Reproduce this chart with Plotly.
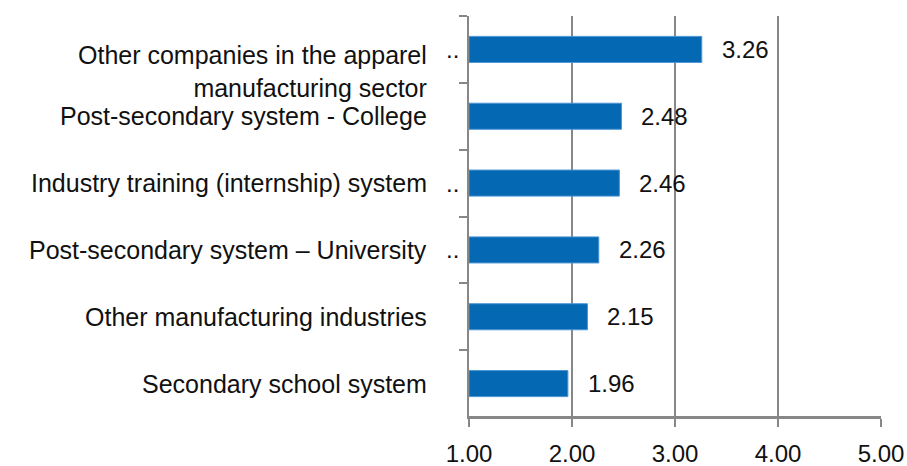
import plotly.graph_objects as go

# Mean ratings by source
categories = [
    "Other companies in the apparel<br>manufacturing sector",
    "Post-secondary system - College",
    "Industry training (internship) system",
    "Post-secondary system \u2013 University",
    "Other manufacturing industries",
    "Secondary school system",
]
values = [3.26, 2.48, 2.46, 2.26, 2.15, 1.96]
# categories whose label carries a trailing ".." marker
dotted = [True, False, True, True, False, False]
x_ticks = [1, 2, 3, 4, 5]

FONT = "Liberation Sans"
GRID = "#878787"
BAR = "#0568B2"

fig = go.Figure()
fig.add_trace(go.Bar(
    y=categories,
    x=[v - 1 for v in values],
    base=1,
    orientation="h",
    width=0.39,
    marker=dict(color=BAR, line=dict(color="#4C95D6", width=1)),
    hoverinfo="skip",
))

annotations = []
for cat, v, d in zip(categories, values, dotted):
    # value label to the right of each bar
    annotations.append(dict(
        x=v, y=cat, xref="x", yref="y", text=f"{v:.2f}",
        showarrow=False, xanchor="left", yanchor="middle", xshift=18,
        font=dict(family=FONT, size=24, color="#111111"),
    ))
    # category label left of the axis
    two_line = "<br>" in cat
    annotations.append(dict(
        x=0, y=cat, xref="paper", yref="y", text=cat,
        showarrow=False, xanchor="right", yanchor="middle", align="right",
        xshift=-40, yshift=-22 if two_line else 0,
        font=dict(family=FONT, size=25, color="#111111"),
    ))
    if d:
        annotations.append(dict(
            x=0, y=cat, xref="paper", yref="y", text="..",
            showarrow=False, xanchor="right", yanchor="middle",
            xshift=-8,
            font=dict(family=FONT, size=24, color="#111111"),
        ))

fig.update_layout(
    width=907, height=466,
    margin=dict(l=469, r=26, t=16, b=49),
    paper_bgcolor="white", plot_bgcolor="white",
    showlegend=False,
    annotations=annotations,
    # baseline of the value axis
    shapes=[dict(type="line", xref="paper", yref="paper",
                 x0=0, x1=1, y0=0, y1=0,
                 line=dict(color=GRID, width=2), layer="above")],
    xaxis=dict(
        range=[1, 5], tickvals=x_ticks, tickformat=".2f",
        showgrid=True, gridcolor=GRID, gridwidth=1.5,
        showline=True, linecolor=GRID, linewidth=2,
        ticks="outside", ticklen=8, tickcolor=GRID, tickwidth=1.5,
        ticklabelstandoff=6,
        tickfont=dict(family=FONT, size=24, color="#111111"),
        zeroline=False, fixedrange=True, automargin=False,
    ),
    yaxis=dict(
        type="category", categoryorder="array", categoryarray=categories,
        range=[5.5, -0.5],
        showticklabels=False,
        showline=True, linecolor=GRID, linewidth=2,
        ticks="outside", ticklen=8, tickcolor=GRID, tickwidth=1.5,
        tickson="boundaries", showgrid=False, zeroline=False,
        fixedrange=True, automargin=False,
    ),
)

fig.write_html("out.html")
